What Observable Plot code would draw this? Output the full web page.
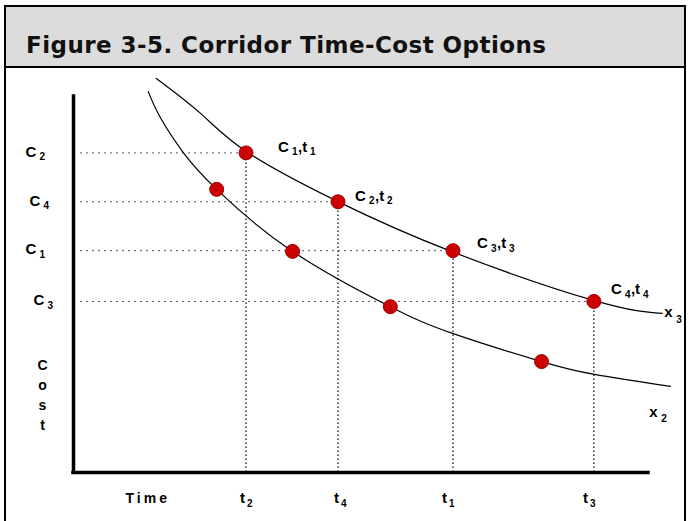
<!DOCTYPE html>
<html><head><meta charset="utf-8">
<script src="https://cdn.jsdelivr.net/npm/d3@7"></script>
<script src="https://cdn.jsdelivr.net/npm/@observablehq/plot@0.6"></script>
<style>
html,body{margin:0;padding:0;background:#fff;overflow:hidden;width:689px;height:521px}
#frame{position:absolute;left:4px;top:5px;width:678px;border:2px solid #000;border-bottom:none;}
#title{height:33px;padding-top:26px;line-height:24px;background:#dcdcdc;border-bottom:2px solid #000;
  font-family:"DejaVu Sans",sans-serif;font-weight:bold;font-size:23px;letter-spacing:0.45px;padding-left:20px;color:#111;white-space:nowrap}
#chart svg{display:block}
</style>
</head><body>
<div id="frame"><div id="title">Figure 3-5. Corridor Time-Cost Options</div><div id="chart"></div></div>
<script>
// ---- data (abstract time / cost units) ----
const tickTimes = [3.0, 4.6, 6.6, 9.05];        // positions of t2, t4, t1, t3
const tickTimeSubs = ["2", "4", "1", "3"];
const costValues = [8.5, 7.2, 5.9, 4.55];       // positions of C2, C4, C1, C3
const costSubs = ["2", "4", "1", "3"];
const optionNums = ["1", "2", "3", "4"];        // labels C1,t1 ... C4,t4 on curve x3

const lowerTimes = [2.49, 3.81, 5.51, 8.14];    // red points on curve x2
const lowerCosts = [7.53, 5.88, 4.41, 2.95];

const x3CurveTime = [1.44, 2.21, 3.03, 4.59, 6.57, 9.06, 10.24];
const x3CurveCost = [10.48, 9.55, 8.51, 7.21, 5.88, 4.57, 4.23];
const x2CurveTime = [1.30, 1.51, 1.91, 2.49, 3.81, 5.51, 6.59, 8.14, 9.06, 10.38];
const x2CurveCost = [10.13, 9.44, 8.51, 7.53, 5.88, 4.41, 3.70, 2.95, 2.61, 2.29];

const axisMax = 10;

// ---- tables built from the arrays ----
const options = tickTimes.map((t, i) => ({time: t, cost: costValues[i], n: optionNums[i], tsub: tickTimeSubs[i], csub: costSubs[i]}));
const lowerPts = lowerTimes.map((t, i) => ({time: t, cost: lowerCosts[i]}));
const x3 = x3CurveTime.map((t, i) => ({time: t, cost: x3CurveCost[i]}));
const x2 = x2CurveTime.map((t, i) => ({time: t, cost: x2CurveCost[i]}));

const FF = '"Liberation Sans", Arial, sans-serif';
function piece(data, x, y, text, dx, dy, sub, extra = {}) {
  return Plot.text(data, {x, y, text, dx, dy: dy + (sub ? 5 : 0), fontSize: sub ? 10 : 15,
    fontWeight: "bold", fontFamily: FF, textAnchor: "start", lineAnchor: "middle", fill: "#000", ...extra});
}

// per-label offsets (styling)
const optOff = [[32, -6], [17, -6], [24, -7], [17, -12]];
const costOff = [-48, -44, -48, -40];
const timeOff = [-6, -4, -11, -11];

const marks = [];
// dotted guides
marks.push(Plot.ruleY(options, {y: "cost", x1: 0, x2: "time", insetLeft: 7, stroke: "#555", strokeWidth: 1, strokeDasharray: "2,4"}));
marks.push(Plot.ruleX(options, {x: "time", y1: 0, y2: "cost", insetBottom: 6, stroke: "#000", strokeWidth: 1.2, strokeDasharray: "1.5,2.5"}));
// curves
marks.push(Plot.line(x3, {x: "time", y: "cost", curve: "natural", stroke: "#000", strokeWidth: 1.2}));
marks.push(Plot.line(x2, {x: "time", y: "cost", curve: "natural", stroke: "#000", strokeWidth: 1.2}));
// axes
marks.push(Plot.ruleX([0], {y1: 0, y2: axisMax, stroke: "#000", strokeWidth: 3.5, strokeLinecap: "square"}));
marks.push(Plot.ruleY([0], {x1: 0, x2: axisMax, stroke: "#000", strokeWidth: 3.5, strokeLinecap: "square"}));
// points
marks.push(Plot.dot(options, {x: "time", y: "cost", r: 7, fill: "#cc0000", stroke: "#990000", strokeWidth: 1}));
marks.push(Plot.dot(lowerPts, {x: "time", y: "cost", r: 7, fill: "#cc0000", stroke: "#990000", strokeWidth: 1}));
// option labels
options.forEach((d, i) => {
  const [ox, oy] = optOff[i];
  marks.push(piece([d], "time", "cost", () => "C", ox, oy, false));
  marks.push(piece([d], "time", "cost", dd => dd.n, ox + 14, oy, true));
  marks.push(piece([d], "time", "cost", () => ",t", ox + 20, oy, false));
  marks.push(piece([d], "time", "cost", dd => dd.n, ox + 32, oy, true));
  // cost tick labels
  marks.push(piece([d], () => 0, "cost", () => "C", costOff[i], -1, false));
  marks.push(piece([d], () => 0, "cost", dd => dd.csub, costOff[i] + 14, -1, true));
  // time tick labels
  marks.push(piece([d], "time", () => 0, () => "t", timeOff[i], 26, false));
  marks.push(piece([d], "time", () => 0, dd => dd.tsub, timeOff[i] + 7, 26, true));
});
// curve labels
marks.push(piece(x3.slice(-1), "time", "cost", () => "x", 2, -1, false, {fontSize: 15}));
marks.push(piece(x3.slice(-1), "time", "cost", () => "3", 14, 1, true));
marks.push(piece(x2.slice(-1), "time", "cost", () => "x", -21, 26, false, {fontSize: 15}));
marks.push(piece(x2.slice(-1), "time", "cost", () => "2", -9, 27, true));
// axis titles
marks.push(Plot.text(["C\no\ns\nt"], {frameAnchor: "bottom-left", text: d => d, dx: -31, dy: -79, lineHeight: 1.43,
  fontSize: 14, fontWeight: "bold", fontFamily: FF, textAnchor: "middle", lineAnchor: "middle", fill: "#000"}));
marks.push(Plot.text(["Time"], {frameAnchor: "bottom-left", text: d => d, dx: 52, dy: 26,
  fontSize: 14, fontWeight: "bold", fontFamily: FF, textAnchor: "start", lineAnchor: "middle", fill: "#000"}));

const chart = Plot.plot({
  width: 678, height: 453,
  marginLeft: 67, marginRight: 36, marginTop: 28, marginBottom: 49,
  x: {domain: [0, axisMax], axis: null},
  y: {domain: [0, axisMax], axis: null},
  style: {background: "#fff", overflow: "visible"},
  marks
});
d3.select(chart).selectAll("text").filter(function () { return this.textContent === "Time"; })
  .style("letter-spacing", "3px");
document.getElementById("chart").appendChild(chart);
</script>
</body></html>
